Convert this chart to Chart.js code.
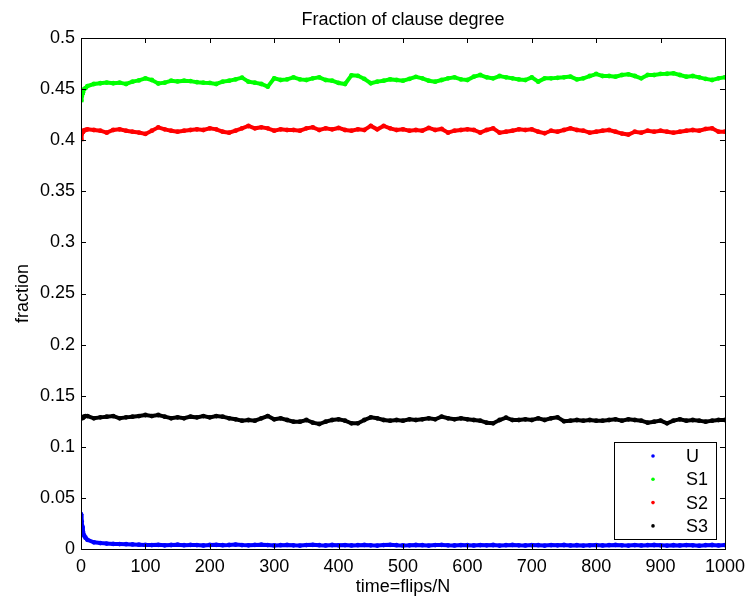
<!DOCTYPE html>
<html>
<head>
<meta charset="utf-8">
<title>Fraction of clause degree</title>
<script src="https://cdn.jsdelivr.net/npm/chart.js@4.4.1/dist/chart.umd.min.js"></script>
<style>
  body { margin: 0; background: #fff; }
  canvas { display: block; }
</style>
</head>
<body>
<canvas id="chart" width="752" height="600"></canvas>
<script>
// time samples (flips/N)
const times = [0, 1, 2, 3, 5, 7,
  10, 20, 30, 40, 50, 60, 70, 80, 90, 100,
  110, 120, 130, 140, 150, 160, 170, 180, 190, 200,
  210, 220, 230, 240, 250, 260, 270, 280, 290, 300,
  310, 320, 330, 340, 350, 360, 370, 380, 390, 400,
  410, 420, 430, 440, 450, 460, 470, 480, 490, 500,
  510, 520, 530, 540, 550, 560, 570, 580, 590, 600,
  610, 620, 630, 640, 650, 660, 670, 680, 690, 700,
  710, 720, 730, 740, 750, 760, 770, 780, 790, 800,
  810, 820, 830, 840, 850, 860, 870, 880, 890, 900,
  910, 920, 930, 940, 950, 960, 970, 980, 990, 1000];

const seriesNames = ['U', 'S1', 'S2', 'S3'];
const seriesColors = ['#0000ff', '#00ff00', '#ff0000', '#000000'];

const U = [0.034, 0.027, 0.022, 0.017, 0.013, 0.011,
  0.009, 0.0065, 0.0058, 0.0053, 0.005, 0.0048, 0.0047, 0.0045, 0.0042, 0.004,
  0.0038, 0.0041, 0.0036, 0.0039, 0.0042, 0.0037, 0.0040, 0.0038, 0.0035, 0.0039,
  0.0041, 0.0037, 0.0039, 0.0043, 0.0038, 0.0036, 0.0040, 0.0042, 0.0038, 0.0035,
  0.0037, 0.0040, 0.0036, 0.0034, 0.0038, 0.0041, 0.0037, 0.0035, 0.0039, 0.0036,
  0.0038, 0.0035, 0.0037, 0.0040, 0.0036, 0.0034, 0.0038, 0.0041, 0.0037, 0.0035,
  0.0036, 0.0039, 0.0037, 0.0034, 0.0038, 0.0040, 0.0036, 0.0035, 0.0038, 0.0037,
  0.0035, 0.0038, 0.0036, 0.0039, 0.0034, 0.0037, 0.0040, 0.0036, 0.0035, 0.0038,
  0.0037, 0.0034, 0.0038, 0.0036, 0.0039, 0.0035, 0.0037, 0.0034, 0.0036, 0.0038,
  0.0035, 0.0037, 0.0040, 0.0036, 0.0034, 0.0038, 0.0035, 0.0037, 0.0039, 0.0036,
  0.0034, 0.0037, 0.0035, 0.0038, 0.0036, 0.0033, 0.0037, 0.0039, 0.0035, 0.0038];

const S1 = [0.439, 0.443, 0.446, 0.447, 0.450, 0.451,
  0.453, 0.455, 0.4557, 0.4564, 0.4557, 0.4563, 0.455, 0.4573, 0.4585, 0.4605,
  0.4589, 0.4555, 0.4563, 0.4582, 0.4575, 0.4582, 0.4578, 0.4568, 0.4563, 0.456,
  0.455, 0.4573, 0.4582, 0.4595, 0.4612, 0.4573, 0.4563, 0.455, 0.4524, 0.4605,
  0.4589, 0.4595, 0.4615, 0.4595, 0.4589, 0.4605, 0.4615, 0.4589, 0.4582, 0.456,
  0.455, 0.4635, 0.463, 0.46, 0.4557, 0.4573, 0.4582, 0.4595, 0.4589, 0.4582,
  0.46, 0.462, 0.4605, 0.4582, 0.4573, 0.4589, 0.4605, 0.4615, 0.4595, 0.4589,
  0.4622, 0.4638, 0.4615, 0.4605, 0.4628, 0.4615, 0.4605, 0.4595, 0.4589, 0.4615,
  0.4573, 0.4605, 0.4605, 0.461, 0.4615, 0.4622, 0.4595, 0.4605, 0.4628, 0.4648,
  0.4628, 0.4628, 0.4622, 0.4638, 0.4645, 0.4628, 0.4605, 0.4638, 0.4638, 0.4648,
  0.465, 0.4654, 0.4638, 0.4622, 0.4628, 0.4615, 0.46, 0.4589, 0.4605, 0.4615];

const S2 = [0.401, 0.406, 0.408, 0.409, 0.4095, 0.410,
  0.4106, 0.41, 0.4093, 0.4074, 0.41, 0.4106, 0.4093, 0.4083, 0.4075, 0.4061,
  0.4093, 0.4126, 0.4106, 0.4093, 0.4083, 0.4093, 0.41, 0.4106, 0.41, 0.4116,
  0.4106, 0.4083, 0.4074, 0.4093, 0.4116, 0.4139, 0.4116, 0.4126, 0.4116, 0.4093,
  0.4106, 0.41, 0.41, 0.4093, 0.4116, 0.4126, 0.41, 0.4116, 0.4106, 0.412,
  0.41, 0.4093, 0.4106, 0.41, 0.414, 0.4106, 0.414, 0.4116, 0.41, 0.4106,
  0.4093, 0.41, 0.4093, 0.412, 0.41, 0.411, 0.4074, 0.4093, 0.41, 0.4106,
  0.41, 0.4074, 0.41, 0.4116, 0.4074, 0.4083, 0.4093, 0.4106, 0.41, 0.4106,
  0.4083, 0.4068, 0.4093, 0.4083, 0.41, 0.4116, 0.41, 0.4093, 0.4074, 0.4083,
  0.4093, 0.41, 0.4083, 0.4065, 0.4055, 0.4083, 0.4074, 0.4093, 0.4083, 0.4093,
  0.4083, 0.4074, 0.4083, 0.4093, 0.41, 0.4093, 0.411, 0.4116, 0.4083, 0.4083];

const S3 = [0.1279, 0.128, 0.1285, 0.129, 0.1295, 0.1301,
  0.1301, 0.1279, 0.1288, 0.1295, 0.1301, 0.1279, 0.1288, 0.1295, 0.1301, 0.1311,
  0.1301, 0.1311, 0.1295, 0.1279, 0.1288, 0.1279, 0.1295, 0.1288, 0.1301, 0.1288,
  0.1301, 0.1295, 0.1279, 0.1269, 0.1256, 0.1262, 0.1256, 0.1279, 0.1301, 0.1269,
  0.1279, 0.1262, 0.1246, 0.1246, 0.1262, 0.1236, 0.1223, 0.1246, 0.1262, 0.1269,
  0.1256, 0.123, 0.123, 0.1262, 0.1288, 0.1279, 0.1262, 0.1256, 0.1262, 0.1256,
  0.1269, 0.1262, 0.1269, 0.1279, 0.1269, 0.1295, 0.1279, 0.1269, 0.1279, 0.1269,
  0.1262, 0.1256, 0.1236, 0.123, 0.1262, 0.1285, 0.1262, 0.1262, 0.1269, 0.1262,
  0.1279, 0.1262, 0.1279, 0.1288, 0.125, 0.1256, 0.1262, 0.1256, 0.1262, 0.1256,
  0.1256, 0.1262, 0.1269, 0.1256, 0.1269, 0.1262, 0.1256, 0.1236, 0.1246, 0.1256,
  0.123, 0.1256, 0.1269, 0.1256, 0.1262, 0.1256, 0.1246, 0.1256, 0.1262, 0.1262];

const yTickLabels = ['0', '0.05', '0.1', '0.15', '0.2', '0.25', '0.3', '0.35', '0.4', '0.45', '0.5'];
const xTickLabels = ['0', '100', '200', '300', '400', '500', '600', '700', '800', '900', '1000'];

const FONT = 'Liberation Sans, Arial, Helvetica, sans-serif';

function toPoints(values) {
    return values.map((v, i) => ({ x: times[i], y: v }));
}

const datasets = [U, S1, S2, S3].map((vals, i) => ({
    label: seriesNames[i],
    data: toPoints(vals),
    borderColor: seriesColors[i],
    backgroundColor: seriesColors[i],
    borderWidth: 4,
    pointRadius: 2.4,
    pointBorderWidth: 0,
    showLine: true,
    tension: 0
}));

// matlab style box, inward ticks, titles and legend
const matlabFrame = {
    id: 'matlabFrame',
    afterDatasetsDraw(chart) {
        const ctx = chart.ctx;
        const a = chart.chartArea;
        const xs = chart.scales.x;
        const ys = chart.scales.y;
        ctx.save();
        ctx.strokeStyle = '#000';
        ctx.lineWidth = 1;
        ctx.beginPath();
        xs.ticks.forEach(t => {
            const px = Math.round(xs.getPixelForValue(t.value)) + 0.5;
            ctx.moveTo(px, a.bottom); ctx.lineTo(px, a.bottom - 5);
            ctx.moveTo(px, a.top); ctx.lineTo(px, a.top + 5);
        });
        ys.ticks.forEach(t => {
            const py = Math.round(ys.getPixelForValue(t.value)) + 0.5;
            ctx.moveTo(a.left, py); ctx.lineTo(a.left + 5, py);
            ctx.moveTo(a.right, py); ctx.lineTo(a.right - 5, py);
        });
        ctx.stroke();
        ctx.strokeRect(Math.round(a.left) + 0.5, Math.round(a.top) + 0.5,
            Math.round(a.right - a.left), Math.round(a.bottom - a.top));

        // legend box
        const lx = 614, ly = 442, lw = 102, lh = 97;
        ctx.fillStyle = '#fff';
        ctx.fillRect(lx, ly, lw, lh);
        ctx.strokeRect(lx + 0.5, ly + 0.5, lw, lh);
        ctx.font = '18px ' + FONT;
        ctx.textBaseline = 'middle';
        ctx.textAlign = 'left';
        chart.data.datasets.forEach((ds, i) => {
            const ry = ly + 14 + i * 23.3;
            ctx.fillStyle = ds.borderColor;
            ctx.beginPath();
            ctx.arc(lx + 39, ry, 1.8, 0, Math.PI * 2);
            ctx.fill();
            ctx.fillStyle = '#000';
            ctx.fillText(ds.label, lx + 72, ry + 1);
        });

        // titles
        ctx.fillStyle = '#000';
        ctx.textAlign = 'center';
        ctx.textBaseline = 'alphabetic';
        ctx.fillText('Fraction of clause degree', (a.left + a.right) / 2, 25);
        ctx.fillText('time=flips/N', (a.left + a.right) / 2, 592);
        ctx.translate(28, (a.top + a.bottom) / 2);
        ctx.rotate(-Math.PI / 2);
        ctx.fillText('fraction', 0, 0);
        ctx.restore();
    }
};

new Chart(document.getElementById('chart'), {
    type: 'scatter',
    data: { datasets: datasets },
    options: {
        responsive: false,
        animation: false,
        layout: { padding: { top: 38, right: 22, bottom: 0, left: 0 } },
        plugins: {
            legend: { display: false },
            tooltip: { enabled: false }
        },
        scales: {
            x: {
                type: 'linear',
                min: 0,
                max: 1000,
                afterFit: scale => { scale.height = 51; },
                grid: { display: false, drawTicks: false },
                border: { display: false },
                ticks: {
                    stepSize: 100,
                    padding: 7,
                    color: '#000',
                    font: { family: FONT, size: 18 },
                    maxRotation: 0,
                    callback: (v, i) => xTickLabels[i]
                }
            },
            y: {
                min: 0,
                max: 0.5,
                afterFit: scale => { scale.width = 81; },
                grid: { display: false, drawTicks: false },
                border: { display: false },
                ticks: {
                    stepSize: 0.05,
                    padding: 6,
                    color: '#000',
                    font: { family: FONT, size: 18 },
                    callback: (v, i) => yTickLabels[i]
                }
            }
        }
    },
    plugins: [matlabFrame]
});
</script>
</body>
</html>
